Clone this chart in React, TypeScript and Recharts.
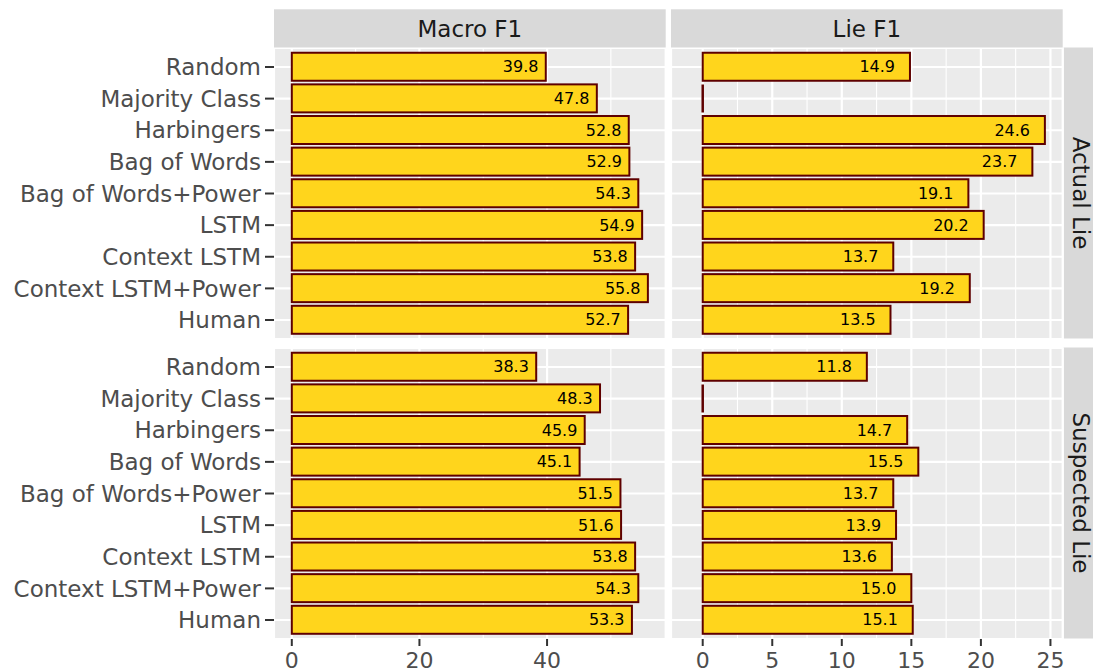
import React from "react";
import { BarChart, Bar, XAxis, YAxis, CartesianGrid, LabelList } from "recharts";

const models = [
  "Random",
  "Majority Class",
  "Harbingers",
  "Bag of Words",
  "Bag of Words+Power",
  "LSTM",
  "Context LSTM",
  "Context LSTM+Power",
  "Human",
];

const actualMacro = [39.8, 47.8, 52.8, 52.9, 54.3, 54.9, 53.8, 55.8, 52.7];
const actualLie = [14.9, 0, 24.6, 23.7, 19.1, 20.2, 13.7, 19.2, 13.5];
const suspectedMacro = [38.3, 48.3, 45.9, 45.1, 51.5, 51.6, 53.8, 54.3, 53.3];
const suspectedLie = [11.8, 0, 14.7, 15.5, 13.7, 13.9, 13.6, 15.0, 15.1];

const columns = ["Macro F1", "Lie F1"];
const rows = ["Actual Lie", "Suspected Lie"];

const macroTicks = [0, 20, 40];
const macroMinor = [10, 30, 50];
const lieTicks = [0, 5, 10, 15, 20, 25];
const lieMinor = [2.5, 7.5, 12.5, 17.5, 22.5];

// ggplot-style expanded ranges
const macroDomain: [number, number] = [-2.79, 58.59];
const lieDomain: [number, number] = [-2.28, 25.88];

const FONT = "'DejaVu Sans', sans-serif";
const BAR_FILL = "#FFD51C";
const BAR_STROKE = "#5E0000";

const COL_X = [274, 671];
const ROW_Y = [47.5, 347.5];
const PANEL_W = 391.7;
const PANEL_H = 291;
const XAXIS_H = 34;
const RIGHT_PAD = 24;

const BarShape = (p: any) => {
  const { x, y, width, height } = p;
  if (!width) {
    return <line x1={x} x2={x} y1={y} y2={y + height} stroke={BAR_STROKE} strokeWidth={2.5} />;
  }
  return (
    <rect x={x} y={y} width={width} height={height} fill={BAR_FILL} stroke={BAR_STROKE} strokeWidth={2} />
  );
};

function Panel({
  values,
  domain,
  ticks,
  minor,
  col,
  row,
}: {
  values: number[];
  domain: [number, number];
  ticks: number[];
  minor: number[];
  col: number;
  row: number;
}) {
  const data = models.map((m, i) => ({ model: m, value: values[i] }));
  const showY = col === 0;
  const showX = row === 1;
  const yw = showY ? COL_X[0] : 0;
  const left = showY ? 0 : COL_X[col];
  const rp = col === 1 ? RIGHT_PAD : 0;
  const ppu = PANEL_W / (domain[1] - domain[0]);
  const pad = PANEL_H / 92;

  return (
    <div style={{ position: "absolute", left, top: ROW_Y[row] }}>
      <BarChart
        layout="vertical"
        width={yw + PANEL_W + rp}
        height={PANEL_H + (showX ? XAXIS_H : 0)}
        data={data}
        margin={{ top: 0, right: rp, bottom: 0, left: 0 }}
        barCategoryGap="5%"
      >
        <CartesianGrid xAxisId="minor" horizontal={false} fill="#EBEBEB" fillOpacity={1} stroke="#FFFFFF" strokeWidth={1.1} />
        <CartesianGrid xAxisId="major" stroke="#FFFFFF" strokeWidth={2.2} />
        <XAxis xAxisId="minor" type="number" domain={domain} ticks={minor} allowDataOverflow hide />
        <XAxis
          xAxisId="major"
          type="number"
          domain={domain}
          ticks={ticks}
          allowDataOverflow
          hide={!showX}
          height={XAXIS_H}
          interval={0}
          tickSize={7}
          tickMargin={6}
          axisLine={false}
          tickLine={{ stroke: "#333333", strokeWidth: 2 }}
          tick={{ fontSize: 22, fill: "#4D4D4D", fontFamily: FONT }}
        />
        <YAxis
          type="category"
          dataKey="model"
          hide={!showY}
          width={yw}
          padding={{ top: pad, bottom: pad }}
          interval={0}
          tickSize={9}
          tickMargin={4}
          axisLine={false}
          tickLine={{ stroke: "#333333", strokeWidth: 2 }}
          tick={{ fontSize: 23, fill: "#4D4D4D", fontFamily: FONT }}
        />
        <Bar xAxisId="major" dataKey="value" shape={BarShape} isAnimationActive={false}>
          <LabelList
            dataKey="value"
            position="insideRight"
            offset={ppu + 1}
            formatter={(v: any) => (Number(v) === 0 ? "" : Number(v).toFixed(1))}
            fontSize={16}
            fill="#000000"
            fontFamily={FONT}
          />
        </Bar>
      </BarChart>
    </div>
  );
}

function Strips() {
  const stripTop = 9.3;
  const stripH = ROW_Y[0] - stripTop;
  const rightX = COL_X[1] + PANEL_W + 1;
  return (
    <svg width={1093} height={672} style={{ position: "absolute", left: 0, top: 0 }}>
      {columns.map((c, i) => (
        <g key={c}>
          <rect x={COL_X[i]} y={stripTop} width={PANEL_W} height={stripH} fill="#D9D9D9" />
          <text
            x={COL_X[i] + PANEL_W / 2}
            y={stripTop + stripH / 2 + 8.5}
            textAnchor="middle"
            fontSize={23}
            fill="#1A1A1A"
            fontFamily={FONT}
          >
            {c}
          </text>
        </g>
      ))}
      {rows.map((r, i) => {
        const cy = ROW_Y[i] + PANEL_H / 2;
        const bx = 1073;
        return (
          <g key={r}>
            <rect x={rightX} y={ROW_Y[i]} width={1093 - rightX + 10} height={PANEL_H} fill="#D9D9D9" />
            <text
              x={bx}
              y={cy}
              transform={`rotate(90, ${bx}, ${cy})`}
              textAnchor="middle"
              fontSize={23}
              fill="#1A1A1A"
              fontFamily={FONT}
            >
              {r}
            </text>
          </g>
        );
      })}
    </svg>
  );
}

export default function App() {
  return (
    <div
      style={{
        position: "absolute",
        left: 0,
        top: 0,
        width: 1093,
        height: 672,
        background: "#FFFFFF",
        overflow: "hidden",
        fontFamily: FONT,
      }}
    >
      <Strips />
      <Panel values={actualMacro} domain={macroDomain} ticks={macroTicks} minor={macroMinor} col={0} row={0} />
      <Panel values={actualLie} domain={lieDomain} ticks={lieTicks} minor={lieMinor} col={1} row={0} />
      <Panel values={suspectedMacro} domain={macroDomain} ticks={macroTicks} minor={macroMinor} col={0} row={1} />
      <Panel values={suspectedLie} domain={lieDomain} ticks={lieTicks} minor={lieMinor} col={1} row={1} />
    </div>
  );
}
